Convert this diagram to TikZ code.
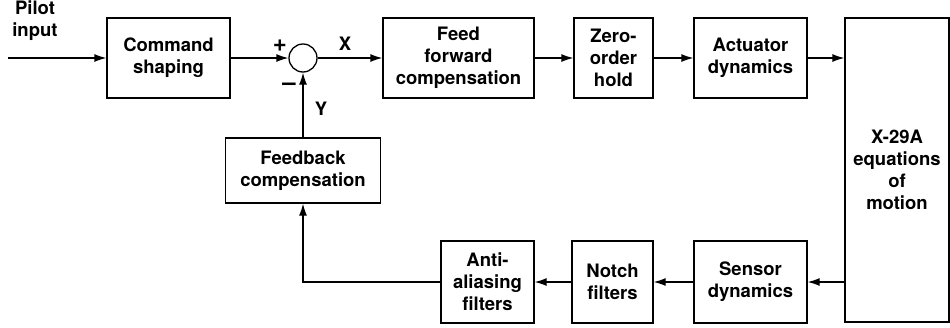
\documentclass[tikz,border=0pt]{standalone}
\usepackage{fontspec}
\setmainfont{TeX Gyre Heros}
\usetikzlibrary{arrows.meta}

\begin{document}
\begin{tikzpicture}[x=1pt,y=-1pt,>={Latex[length=12pt,width=8pt]},line width=1.3pt]
        \tikzstyle{block}=[draw,align=center,inner sep=0pt,minimum height=80pt,
                font=\fontsize{18.5}{22}\selectfont\bfseries]
        \tikzstyle{lbl}=[font=\fontsize{18.5}{22}\selectfont\bfseries,align=center]
        \tikzstyle{sign}=[font=\fontsize{24}{24}\selectfont\bfseries,inner sep=0pt]
        \useasboundingbox (0,0) rectangle (950,327);

        \node[lbl](pilot) at (35,21){Pilot\\input};
        \coordinate (in) at (8,58);
        \node[block,minimum width=123pt](cmd) at (168.5,58){Command\\shaping};
        \node[draw,circle,minimum size=28pt,inner sep=0pt](sum) at (303,58){};
        \node[sign](plus) at (280,46){+};
        \node[sign](minus) at (289,87){–};
        \node[lbl](xx) at (345,44){X};
        \node[lbl](yy) at (321,109){Y};

        \node[block,minimum width=151pt](ff) at (458.5,58){Feed\\forward\\compensation};
        \node[block,minimum width=79pt](zoh) at (613.5,58){Zero-\\order\\hold};
        \node[block,minimum width=113pt](act) at (750.5,58){Actuator\\dynamics};
        \node[block,minimum width=104pt,minimum height=304pt](eom) at (897,170){X-29A\\equations\\of\\motion};

        \node[block,minimum width=155pt,minimum height=65pt](fb) at (303,170.5){Feedback\\compensation};
        \node[block,minimum width=93pt,minimum height=82pt](anti) at (487.5,282){Anti-\\aliasing\\filters};
        \node[block,minimum width=81pt,minimum height=82pt](notch) at (612.5,282){Notch\\filters};
        \node[block,minimum width=113pt,minimum height=82pt](sens) at (750.5,282){Sensor\\dynamics};

        \draw[->] (in) -- (cmd);
        \draw[->] (cmd) -- (sum);
        \draw[->] (sum) -- (ff);
        \draw[->] (ff) -- (zoh);
        \draw[->] (zoh) -- (act);
        \draw[->] (act) -- (act.east -| eom.west);

        \draw[->] (eom.west |- sens.east) -- (sens);
        \draw[->] (sens) -- (notch);
        \draw[->] (notch) -- (anti);
        \draw[->] (anti.west) -| (fb.south);
        \draw[->] (fb) -- (sum);

    \end{tikzpicture}
\end{document}
